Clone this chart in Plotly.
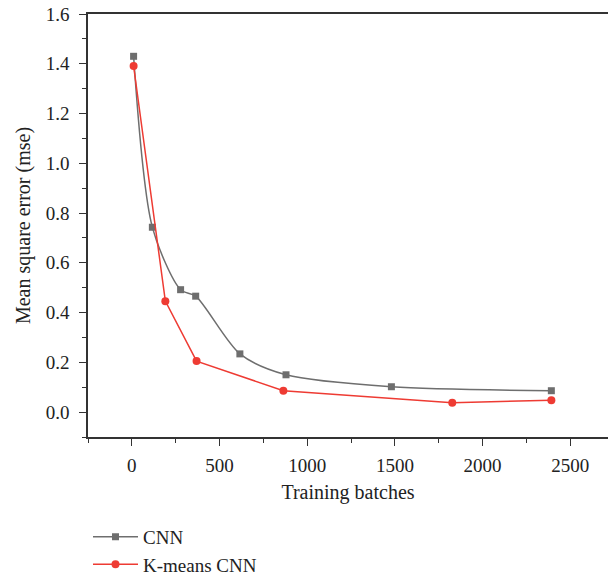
import plotly.graph_objects as go

cnn_x = [10, 117, 278, 364, 616, 879, 1480, 2392]
cnn_y = [1.43, 0.743, 0.492, 0.466, 0.234, 0.150, 0.102, 0.086]
km_x = [10, 191, 369, 864, 1827, 2392]
km_y = [1.391, 0.446, 0.205, 0.086, 0.038, 0.048]

font = "Liberation Serif"
fig = go.Figure()
fig.add_trace(go.Scatter(x=cnn_x, y=cnn_y, name="CNN", mode="lines+markers",
                         line=dict(color="#6e6e6e", width=1.5, shape="spline", smoothing=0.8),
                         marker=dict(symbol="square", size=7, color="#6e6e6e")))
fig.add_trace(go.Scatter(x=km_x, y=km_y, name="K-means CNN", mode="lines+markers",
                         line=dict(color="#ee3b33", width=1.5),
                         marker=dict(symbol="circle", size=8, color="#ee3b33")))

axis_common = dict(showgrid=False, zeroline=False, showline=True, linecolor="#333333", linewidth=1.5,
                   ticks="outside", ticklen=7, tickwidth=1.2, tickcolor="#333333",
                   tickfont=dict(family=font, size=19, color="#222222"))
fig.update_layout(
    width=608, height=576,
    margin=dict(l=88, r=0, t=14, b=139, autoexpand=False),
    plot_bgcolor="white", paper_bgcolor="white",
    font=dict(family=font, color="#222222"),
    xaxis=dict(range=[-250, 2715], tickvals=[0, 500, 1000, 1500, 2000, 2500], mirror=True,
               minor=dict(ticks="outside", ticklen=4, tickwidth=1.2, tickcolor="#333333", dtick=250, tick0=0),
               title=dict(text="Training batches", font=dict(family=font, size=20), standoff=10),
               ticklabelstandoff=3, automargin=False, **axis_common),
    yaxis=dict(range=[-0.1, 1.6], tickvals=[0, 0.2, 0.4, 0.6, 0.8, 1.0, 1.2, 1.4, 1.6], tickformat=".1f",
               minor=dict(ticks="outside", ticklen=4, tickwidth=1.2, tickcolor="#333333", dtick=0.1, tick0=0),
               title=dict(text="Mean square error (mse)", font=dict(family=font, size=20), standoff=10),
               ticklabelstandoff=6, automargin=False, **axis_common),
    legend=dict(x=0.0, xref="paper", y=0.101, yref="container", xanchor="left", yanchor="top",
                orientation="v", itemwidth=45,
                font=dict(family=font, size=19), tracegroupgap=0, bgcolor="rgba(0,0,0,0)"),
    showlegend=True,
)
fig.write_html("out.html")
